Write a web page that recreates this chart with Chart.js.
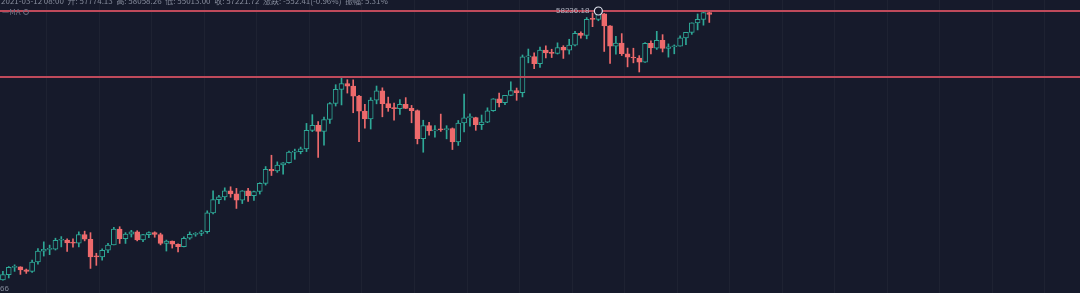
<!DOCTYPE html>
<html>
<head>
<meta charset="utf-8">
<script src="https://cdn.jsdelivr.net/npm/chart.js@4.4.0/dist/chart.umd.min.js"></script>
<style>
  html, body { margin: 0; padding: 0; background: #161a2b; }
  #wrap { position: relative; width: 1080px; height: 293px; }
</style>
</head>
<body>
<div id="wrap"><canvas id="kline"></canvas></div>
<script>
// BTC/USDT daily candles, 2020-11-11 .. 2021-03-12
const startDate = '2020-11-11';
const futureSlots = 63;

const opens = [
  15296,15701,16276,16317,16068,15955,16717,17645,17804,17817,18621,18642,18370,18364,19160,18720,17150,17139,17719,18185,
  19695,18765,19205,19422,18650,19147,19359,19166,18324,18541,18254,18036,18808,19175,19273,19426,21335,22797,23107,23821,23455,22719,23811,23232,23729,24713,26493,26281,27079,27385,28875,
  28924,29332,32176,33000,31989,33950,36769,39433,40586,40088,38150,35410,34050,37372,39145,36737,35994,35825,36622,35901,35469,30852,32951,32078,32260,32254,32464,30362,33369,34262,34262,
  33092,33518,35472,37620,36936,38289,39182,38795,46374,46420,44807,47969,47298,47156,48581,47911,49133,52118,51553,55907,55841,57412,54087,48891,49676,47073,46276,46103,
  45134,49595,48436,50349,48375,48747,48882,50959,52375,54875,55851,57774
];
const highs = [
  15965,16340,16480,16326,16139,16880,17858,18476,18179,18815,18965,18750,18766,19418,19484,19340,17457,17853,18344,19863,
  19918,19343,19567,19527,19177,19420,19420,19294,18639,18557,18292,18948,19411,19350,19570,21560,23800,23285,24171,24295,24102,23837,24100,23789,24789,26867,28422,27500,27410,28999,29300,
  29600,33300,34778,33600,34360,36939,40365,41950,41380,41350,38264,36628,37850,40100,39747,37950,36852,37469,37850,36415,35600,33826,33456,32944,34875,32921,32557,33783,38531,34933,34342,
  34717,35984,37662,38708,38310,40955,39700,46794,48200,47310,48678,48985,48150,49707,49010,50600,52618,52530,56368,57700,58236.18,57534,54183,51374,52041,48424,48394,46638,
  49790,50200,52640,51773,49448,49200,51450,52402,54895,57387,58150,58058
];
const lows = [
  15272,15440,15952,15715,15793,15867,16531,17214,17335,17740,18018,17610,18000,18018,18565,16188,16438,16865,17517,18185,
  18330,18330,18925,18565,18500,18857,18902,18200,17650,17911,17572,18020,18711,19000,19050,19278,21230,22350,22750,23060,21815,22353,22600,22703,23433,24500,25700,26101,25880,27320,27850,
  28625,28946,31963,28130,29900,33288,36300,36500,38720,35111,30420,32531,32380,36701,34408,35357,33850,34800,35844,33400,30071,28850,31390,31106,32000,30837,29241,29842,31915,32825,32171,
  32297,33418,35362,36161,36570,38215,37351,37988,45000,43727,43995,46125,46202,47015,46000,47003,48947,50901,50710,53863,55477,47622,44892,47003,46675,44106,45000,43000,
  45115,47047,48100,47500,46300,47070,48882,49274,51845,53005,54272,55013
];
const closes = [
  15701,16276,16317,16068,15955,16717,17645,17804,17817,18621,18642,18370,18364,19160,18720,17150,17139,17719,18185,19695,
  18765,19205,19422,18650,19147,19359,19166,18324,18541,18254,18036,18808,19175,19273,19426,21335,22797,23107,23821,23455,22719,23811,23232,23729,24713,26493,26281,27079,27385,28875,28924,
  29332,32178,33000,31988,33949,36769,39432,40582,40088,38150,35404,34051,37372,39144,36742,35994,35828,36632,35892,35469,30851,32945,32079,32259,32254,32468,30366,33364,34252,34262,33092,
  33526,35466,37618,36936,38290,39186,38795,46374,46420,44807,47969,47287,47153,48577,47911,49133,52119,51552,55906,55841,57408,54087,48891,49676,47073,46276,46106,45135,
  49587,48440,50349,48374,48751,48882,50971,52376,54885,55851,57774,57221
];

// horizontal price levels drawn across the chart
const levelLines = [58236.18, 41950];
// visible price window (log scale)
const priceMin = 14326;
const priceMax = 61510;

const headerText = '2021-03-12 08:00  开: 57774.13  高: 58058.26  低: 55013.00  收: 57221.72  涨跌: -552.41(-0.96%)  振幅: 5.31%';
const maLabel = 'MA';
const cornerLabel = '66';

const BG = '#161a2b';
const UP = '#2ea897';
const DOWN = '#ee6a6c';

// category labels: one per day, plus empty slots to the right
const labels = [];
{
  const d = new Date(startDate + 'T00:00:00Z');
  for (let i = 0; i < opens.length + futureSlots; i++) {
    const m = String(d.getUTCMonth() + 1).padStart(2, '0');
    const day = String(d.getUTCDate()).padStart(2, '0');
    labels.push(d.getUTCFullYear() + '-' + m + '-' + day);
    d.setUTCDate(d.getUTCDate() + 1);
  }
}

const bodies = labels.map((_, i) => i < opens.length ? [opens[i], closes[i]] : null);
const wicks = labels.map((_, i) => i < opens.length ? [lows[i], highs[i]] : null);
const isUp = i => i < opens.length && closes[i] >= opens[i];

const overlay = {
  id: 'overlay',
  beforeDraw(chart) {
    const { ctx, width, height } = chart;
    ctx.save();
    ctx.fillStyle = BG;
    ctx.fillRect(0, 0, width, height);
    ctx.restore();
  },
  afterDatasetsDraw(chart) {
    const { ctx, chartArea } = chart;
    const x = chart.scales.x, y = chart.scales.y;
    ctx.save();
    // level lines
    ctx.strokeStyle = '#bf4a5b';
    ctx.lineWidth = 2;
    levelLines.forEach(v => {
      const py = Math.round(y.getPixelForValue(v));
      ctx.beginPath();
      ctx.moveTo(chartArea.left, py);
      ctx.lineTo(chartArea.right, py);
      ctx.stroke();
    });
    // highest high marker
    let hi = 0;
    highs.forEach((h, i) => { if (h > highs[hi]) hi = i; });
    const mx = x.getPixelForValue(hi);
    const my = y.getPixelForValue(highs[hi]);
    ctx.beginPath();
    ctx.arc(mx, my, 4, 0, Math.PI * 2);
    ctx.fillStyle = BG;
    ctx.fill();
    ctx.lineWidth = 1.2;
    ctx.strokeStyle = '#dde1ec';
    ctx.stroke();
    ctx.font = '8px "Liberation Sans", sans-serif';
    ctx.fillStyle = '#aeb3c0';
    ctx.textAlign = 'right';
    ctx.textBaseline = 'middle';
    ctx.fillText(highs[hi].toFixed(2), mx - 9, my);
    // header rows
    ctx.textAlign = 'left';
    ctx.font = '8px "Noto Sans CJK SC", "Liberation Sans", sans-serif';
    ctx.fillStyle = '#858b9b';
    ctx.fillText(headerText, 1, 1);
    ctx.fillStyle = '#6a7081';
    ctx.fillText('—' + maLabel, 2, 12);
    ctx.beginPath();
    ctx.arc(26, 12, 2.5, 0, Math.PI * 2);
    ctx.strokeStyle = '#6a7081';
    ctx.lineWidth = 1;
    ctx.stroke();
    ctx.fillStyle = '#858b9b';
    ctx.font = '8px "Liberation Sans", sans-serif';
    ctx.fillText(cornerLabel, 0, 289);
    ctx.restore();
  }
};

new Chart(document.getElementById('kline'), {
  type: 'bar',
  data: {
    labels,
    datasets: [
      {
        label: 'wick',
        data: wicks,
        grouped: false,
        order: 2,
        barThickness: 1,
        backgroundColor: labels.map((_, i) => isUp(i) ? UP : DOWN),
        borderWidth: 0,
        minBarLength: 1
      },
      {
        label: 'body',
        data: bodies,
        grouped: false,
        order: 1,
        barThickness: 5,
        backgroundColor: labels.map((_, i) => isUp(i) ? BG : DOWN),
        borderColor: labels.map((_, i) => isUp(i) ? UP : DOWN),
        borderWidth: 1,
        borderSkipped: false,
        minBarLength: 1
      }
    ]
  },
  options: {
    responsive: true,
    maintainAspectRatio: false,
    animation: false,
    layout: { padding: 0 },
    plugins: { legend: { display: false }, tooltip: { enabled: false } },
    scales: {
      x: {
        display: true,
        offset: true,
        ticks: { display: false, autoSkip: false },
        border: { display: false },
        grid: {
          offset: true,
          drawTicks: false,
          color: c => (c.index % 9 === 8) ? 'rgba(255,255,255,0.035)' : 'rgba(0,0,0,0)',
          lineWidth: 1
        },
        afterFit(scale) { scale.height = 0; }
      },
      y: {
        type: 'logarithmic',
        display: false,
        min: priceMin,
        max: priceMax
      }
    }
  },
  plugins: [overlay]
});
</script>
</body>
</html>
